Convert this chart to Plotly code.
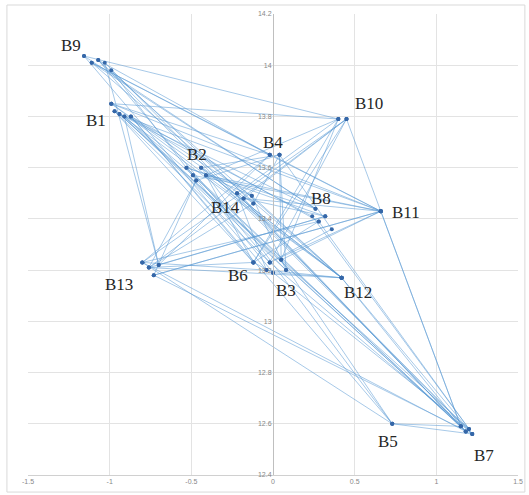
import plotly.graph_objects as go

# Cluster member points for each node (x, y)
node_points = {
    "B9":  [(-1.157, 14.036), (-1.11, 14.01), (-1.07, 14.02), (-1.03, 14.01), (-0.99, 13.98)],
    "B1":  [(-0.99, 13.85), (-0.97, 13.82), (-0.94, 13.81), (-0.91, 13.80), (-0.87, 13.80)],
    "B2":  [(-0.53, 13.60), (-0.49, 13.57), (-0.44, 13.60), (-0.41, 13.57), (-0.47, 13.55)],
    "B4":  [(-0.02, 13.65), (0.04, 13.65)],
    "B14": [(-0.22, 13.50), (-0.18, 13.48), (-0.13, 13.49), (-0.12, 13.46)],
    "B8":  [(0.26, 13.44), (0.32, 13.41), (0.28, 13.39), (0.36, 13.36), (0.24, 13.41)],
    "B11": [(0.66, 13.43)],
    "B10": [(0.40, 13.79), (0.45, 13.79)],
    "B6":  [(-0.12, 13.23)],
    "B3":  [(-0.02, 13.23), (0.05, 13.24), (0.0, 13.19), (0.08, 13.20), (-0.04, 13.20)],
    "B12": [(0.42, 13.17)],
    "B13": [(-0.80, 13.23), (-0.76, 13.21), (-0.73, 13.18), (-0.70, 13.22)],
    "B5":  [(0.73, 12.60)],
    "B7":  [(1.15, 12.59), (1.18, 12.57), (1.22, 12.56), (1.20, 12.58)],
}

# Order in which the line visits the nodes
path = ["B9", "B10", "B1", "B11", "B9", "B8", "B1", "B3", "B9", "B4", "B13", "B10",
        "B7", "B1", "B12", "B13", "B8", "B2", "B7", "B14", "B10", "B3", "B11", "B13",
        "B7", "B9", "B13", "B1", "B2", "B3", "B7", "B8", "B6", "B10", "B14", "B11",
        "B7", "B5", "B1", "B14", "B3", "B4", "B2", "B12", "B7", "B13", "B3", "B12",
        "B1", "B4", "B11", "B2", "B6", "B13", "B14", "B9", "B2", "B13", "B11", "B3",
        "B8", "B4", "B3", "B5", "B7", "B12", "B3", "B6", "B1", "B8", "B7",
        "B1", "B3", "B2", "B8", "B9", "B3", "B14", "B7", "B2", "B11", "B1", "B7",
        "B14", "B8", "B13", "B4", "B9", "B12", "B2", "B5", "B13", "B8", "B1", "B6",
        "B10", "B2", "B14", "B12", "B9", "B7", "B3", "B10", "B13", "B2", "B4", "B14", "B1"]

# Label positions
labels = ["B9", "B1", "B2", "B4", "B14", "B8", "B11", "B10", "B6", "B3", "B12", "B13", "B5", "B7"]
label_x = [-1.237, -1.084, -0.465, 0.0, -0.288, 0.294, 0.814, 0.588, -0.214, 0.08, 0.52, -0.943, 0.704, 1.292]
label_y = [14.076, 13.785, 13.65, 13.70, 13.446, 13.48, 13.426, 13.852, 13.18, 13.12, 13.114, 13.145, 12.53, 12.477]

x_ticks = [-1.5, -1, -0.5, 0, 0.5, 1, 1.5]
x_tick_text = ["-1.5", "-1", "-0.5", "0", "0.5", "1", "1.5"]
y_ticks = [12.4, 12.6, 12.8, 13.0, 13.2, 13.4, 13.6, 13.8, 14.0, 14.2]
y_tick_text = ["12.4", "12.6", "12.8", "13", "13.2", "13.4", "13.6", "13.8", "14", "14.2"]

counters = {k: 0 for k in node_points}
xs, ys = [], []
for n in path:
    pts = node_points[n]
    p = pts[counters[n] % len(pts)]
    counters[n] += 1
    xs.append(p[0])
    ys.append(p[1])

fig = go.Figure()
fig.add_trace(go.Scatter(
    x=xs, y=ys, mode="lines+markers",
    line=dict(color="rgba(91,155,213,0.6)", width=0.9),
    marker=dict(color="#3567A8", size=4),
    hoverinfo="skip", showlegend=False,
))

for t, lx, ly in zip(labels, label_x, label_y):
    fig.add_annotation(x=lx, y=ly, text=t, showarrow=False,
                       font=dict(family="Liberation Serif", size=17, color="#262626"))

fig.update_layout(
    width=529, height=495,
    margin=dict(l=28, r=11, t=14, b=20, autoexpand=False),
    paper_bgcolor="white", plot_bgcolor="white",
    xaxis=dict(range=[-1.5, 1.5], tickvals=x_ticks, ticktext=x_tick_text,
               showgrid=True, gridcolor="#E3E3E3", gridwidth=1,
               zeroline=False, showline=True, linecolor="#D0D0D0",
               tickfont=dict(family="Liberation Sans", size=7, color="#888"),
               ticks="", fixedrange=True, automargin=False),
    yaxis=dict(range=[12.4, 14.2], tickvals=y_ticks, ticktext=y_tick_text,
               showgrid=True, gridcolor="#E3E3E3", gridwidth=1,
               zeroline=False, showline=True, linecolor="#BFBFBF",
               anchor="free", position=0.5,
               tickfont=dict(family="Liberation Sans", size=7, color="#888"),
               ticks="", fixedrange=True, automargin=False),
    shapes=[dict(type="rect", xref="paper", yref="paper",
                 x0=-0.043, x1=1.014, y0=-0.037, y1=1.0195,
                 line=dict(color="#D9D9D9", width=1), layer="below")],
)

fig.write_html("out.html", post_script="document.body.style.margin='0';",
               config={"displayModeBar": False})
